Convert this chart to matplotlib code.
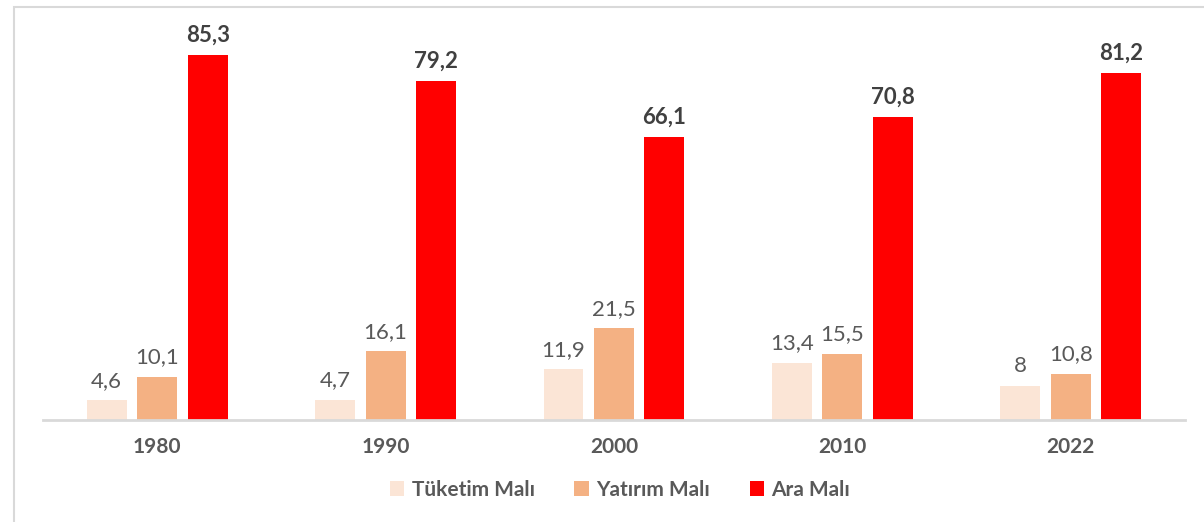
import numpy as np
import matplotlib.pyplot as plt
from matplotlib.patches import Rectangle

years = ["1980", "1990", "2000", "2010", "2022"]
tuketim = [4.6, 4.7, 11.9, 13.4, 8]
yatirim = [10.1, 16.1, 21.5, 15.5, 10.8]
ara = [85.3, 79.2, 66.1, 70.8, 81.2]
series_names = ["Tüketim Malı", "Yatırım Malı", "Ara Malı"]

colors = ["#FBE5D6", "#F4B183", "#FF0000"]
text_gray = "#595959"

plt.rcParams['font.family'] = ['Lato', 'DejaVu Sans']

fig = plt.figure(figsize=(12.04, 5.22), dpi=100)
ax = fig.add_axes([0.0357, 0.1954, 0.9485, 0.7375])

# outer frame like the Excel chart area
fig.patches.append(Rectangle((14 / 1204, -0.01), 1.1, (522 - 7) / 522 + 0.01,
                             transform=fig.transFigure, fill=False,
                             edgecolor="#D9D9D9", linewidth=1.5))

x = np.arange(len(years))
width = 0.175
step = 0.221

def fmt(v):
    s = f"{v:g}"
    return s.replace(".", ",")

for i, (vals, name) in enumerate(zip([tuketim, yatirim, ara], series_names)):
    pos = x + (i - 1) * step
    bars = ax.bar(pos, vals, width, color=colors[i], label=name)
    for b, v in zip(bars, vals):
        bold = i == 2
        ax.text(b.get_x() + b.get_width() / 2, v + 2.2, fmt(v),
                ha="center", va="bottom", fontsize=16,
                fontweight="bold" if bold else "normal",
                color="#404040" if bold else text_gray)

ax.set_xlim(-0.5, len(years) - 0.5)
ax.set_ylim(0, 90)
ax.set_xticks(x)
ax.set_xticklabels(years, fontsize=15, fontweight="bold", color=text_gray)
ax.tick_params(axis="x", length=0, pad=12)
ax.set_yticks([])
for s in ["top", "right", "left"]:
    ax.spines[s].set_visible(False)
ax.spines["bottom"].set_color("#D9D9D9")
ax.spines["bottom"].set_linewidth(2)

leg = fig.legend(loc="center", bbox_to_anchor=(0.515, 0.062), ncol=3,
                 frameon=False, handlelength=0.7, handleheight=0.7,
                 handletextpad=0.35, columnspacing=1.9,
                 prop={"size": 15, "weight": "bold"})
for t in leg.get_texts():
    t.set_color(text_gray)

fig.savefig("out.png", dpi=100)
